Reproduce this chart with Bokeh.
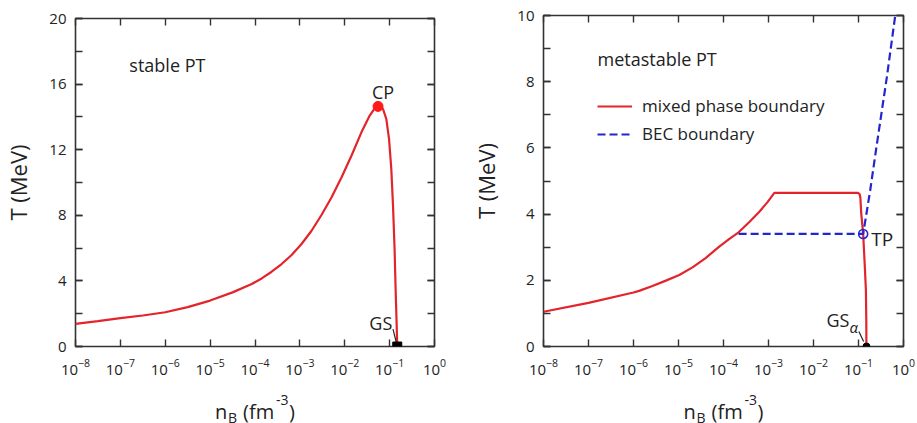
from bokeh.plotting import figure
from bokeh.models import (Range1d, FixedTicker, LogAxis, LinearAxis, Label, Legend, LegendItem,
                          SingleIntervalTicker, CustomJSTickFormatter, LogTickFormatter)
from bokeh.layouts import row, column
from bokeh.embed import file_html
from bokeh.resources import INLINE

FONT = "Open Sans"
TXT = "#222222"
AX = "#333333"
RED = "#e3242b"
BLUE = "#2424d0"

# ---- data ----
x_decades = [1e-8, 1e-7, 1e-6, 1e-5, 1e-4, 1e-3, 1e-2, 1e-1, 1.0]

# left panel: stable PT
stable_nB = [1e-8, 3.16e-8, 1e-7, 3.16e-7, 1e-6, 3.16e-6, 1e-5, 3.16e-5, 8.45e-5, 1.41e-4,
             2.35e-4, 3.92e-4, 6.55e-4, 1.09e-3, 1.82e-3, 3.03e-3, 5.06e-3, 8.45e-3, 0.0141,
             0.0235, 0.0360, 0.0465, 0.0552, 0.0713, 0.0845, 0.0971, 0.109, 0.119, 0.129,
             0.136, 0.143, 0.148]
stable_T = [1.38, 1.55, 1.73, 1.89, 2.09, 2.40, 2.80, 3.30, 3.81, 4.15,
            4.56, 5.03, 5.58, 6.25, 7.06, 8.02, 9.09, 10.31, 11.63,
            13.06, 14.08, 14.52, 14.64, 14.48, 13.87, 12.65, 10.82, 8.58, 5.94,
            3.50, 1.46, 0.0]
cp_nB = [0.0552]
cp_T = [14.64]
gs_nB = [0.148]
gs_T = [0.0]

# right panel: metastable PT
mixed_nB = [1e-8, 1e-7, 1e-6, 1.33e-6, 2.64e-6, 5.24e-6, 1.04e-5, 2.05e-5, 4.07e-5, 8.05e-5,
            1.35e-4, 2.17e-4, 3.76e-4, 6.27e-4, 9.6e-4, 1.35e-3, 0.097, 0.106, 0.110, 0.115,
            0.127, 0.137, 0.146, 0.149, 0.150]
mixed_T = [1.05, 1.32, 1.63, 1.68, 1.83, 1.99, 2.16, 2.39, 2.68, 3.02,
           3.25, 3.45, 3.76, 4.07, 4.37, 4.64, 4.64, 4.60, 4.50, 4.02,
           3.40, 2.52, 1.71, 0.81, 0.0]
bec_nB = [2.17e-4, 0.127, 0.182, 0.257, 0.427, 0.655]
bec_T = [3.40, 3.40, 4.72, 6.13, 8.14, 10.0]
tp_nB = [0.127]
tp_T = [3.40]
gsa_nB = [0.150]
gsa_T = [0.0]

MAIN_H = 383
STRIP_H = 40


def style_axis(ax, labels=True):
    ax.axis_line_color = None
    ax.major_tick_in = 7
    ax.major_tick_out = 0
    ax.minor_tick_in = 7
    ax.minor_tick_out = 0
    ax.major_tick_line_color = AX
    ax.minor_tick_line_color = AX
    ax.major_tick_line_width = 1.4
    ax.minor_tick_line_width = 1.4
    if labels:
        ax.major_label_text_font = FONT
        ax.major_label_text_font_size = "15px"
        ax.major_label_text_color = TXT
    else:
        ax.major_label_standoff = 0


def make_fig(w, bl, br, bt, ymax, ystep):
    p = figure(width=w, height=MAIN_H, x_axis_type="log",
               x_range=Range1d(1e-8, 1.0), y_range=Range1d(0, ymax),
               output_backend="svg", toolbar_location=None,
               min_border_left=bl, min_border_right=br, min_border_top=bt,
               min_border_bottom=MAIN_H - 346)
    p.grid.visible = False
    p.outline_line_color = AX
    p.outline_line_width = 1.6
    p.background_fill_color = "white"
    p.border_fill_color = "white"

    xa = p.xaxis[0]
    xa.ticker = FixedTicker(ticks=x_decades)
    xa.formatter = LogTickFormatter()
    ya = p.yaxis[0]
    ya.ticker = SingleIntervalTicker(interval=ystep, num_minor_ticks=2)
    style_axis(xa)
    style_axis(ya)
    xa.major_label_standoff = 12
    ya.major_label_standoff = 9
    ya.axis_label = "T (MeV)"
    ya.axis_label_text_font = FONT
    ya.axis_label_text_font_size = "22px"
    ya.axis_label_text_font_style = "normal"
    ya.axis_label_text_color = TXT
    ya.axis_label_standoff = 13

    empty = CustomJSTickFormatter(code="return ''")
    top = LogAxis(ticker=FixedTicker(ticks=x_decades), formatter=empty)
    right = LinearAxis(ticker=SingleIntervalTicker(interval=ystep, num_minor_ticks=2),
                       formatter=empty)
    style_axis(top, labels=False)
    style_axis(right, labels=False)
    top.minor_tick_line_color = None
    p.add_layout(top, "above")
    p.add_layout(right, "right")
    return p


def make_xlabel(p, w, bl, br):
    # strip below the plot that holds the composite axis title n_B (fm^-3)
    q = figure(width=w, height=STRIP_H, x_axis_type="log", x_range=p.x_range,
               y_range=Range1d(0, STRIP_H), output_backend="svg", toolbar_location=None,
               x_axis_location=None, y_axis_location=None,
               min_border_left=bl, min_border_right=br, min_border_top=0,
               min_border_bottom=0)
    q.grid.visible = False
    q.outline_line_color = None
    q.background_fill_color = "white"
    q.border_fill_color = "white"
    parts = [("n", -40, 12, "20px"), ("B", -27, 6, "14px"), ("(fm", -12, 12, "20px"),
             ("-3", 21, 24, "14px"), (")", 34, 12, "20px")]
    for t, dx, yy, fs in parts:
        q.add_layout(Label(x=1e-4, y=yy, x_offset=dx, text=t, text_font=FONT,
                           text_font_size=fs, text_color=TXT, text_align="left",
                           text_baseline="alphabetic"))
    return q


def txt(p, x, y, t, fs="18px", align="left", baseline="alphabetic", dx=0, dy=0, style="normal"):
    p.add_layout(Label(x=x, y=y, x_offset=dx, y_offset=dy, text=t, text_font=FONT,
                       text_font_size=fs, text_color=TXT, text_align=align,
                       text_baseline=baseline, text_font_style=style))


# ---- left ----
p1 = make_fig(460, 72, 26, 18, 20, 4)
p1.line(stable_nB, stable_T, line_color=RED, line_width=2.2)
p1.scatter(cp_nB, cp_T, marker="circle", size=10, fill_color="#ff1a1a", line_color="#ff1a1a")
p1.segment(x0=[0.119], y0=[1.06], x1=[0.141], y1=[0.24], line_color=TXT, line_width=1.2)
p1.scatter(gs_nB, gs_T, marker="square", size=9, fill_color="black", line_color="black")
txt(p1, 10 ** -6.8, 17.0, "stable PT", baseline="middle", dy=3)
txt(p1, cp_nB[0], cp_T[0], "CP", align="center", dx=5, dy=14)
txt(p1, gs_nB[0], gs_T[0], "GS", align="right", dx=-5, dy=24)

# ---- right ----
p2 = make_fig(457, 83, 14, 15, 10, 2)
r_red = p2.line(mixed_nB, mixed_T, line_color=RED, line_width=2.2)
r_blue = p2.line(bec_nB, bec_T, line_color=BLUE, line_width=2.2, line_dash="8 4")
p2.scatter(tp_nB, tp_T, marker="circle", size=9, fill_color="white", fill_alpha=0,
           line_color=BLUE, line_width=1.6)
p2.segment(x0=[0.102], y0=[0.45], x1=[0.130], y1=[0.15], line_color=TXT, line_width=1.2)
p2.scatter(gsa_nB, gsa_T, marker="circle", size=7, fill_color="black", line_color="black")
txt(p2, 10 ** -6.8, 8.55, "metastable PT", baseline="middle", dy=4)
txt(p2, tp_nB[0], tp_T[0], "TP", fs="19px", dx=8, dy=-5)
txt(p2, gsa_nB[0], gsa_T[0], "GS", fs="18px", align="right", dx=-17, dy=27)
txt(p2, gsa_nB[0], gsa_T[0], "\u03b1", fs="15px", align="left", dx=-17, dy=20, style="italic")

leg = Legend(items=[LegendItem(label="mixed phase boundary", renderers=[r_red]),
                    LegendItem(label="BEC boundary", renderers=[r_blue])],
             location=(54, 201), border_line_color=None, background_fill_alpha=0,
             padding=0, margin=0, spacing=5, glyph_width=35, glyph_height=20,
             label_height=20, label_standoff=10, label_text_font=FONT,
             label_text_font_size="17px", label_text_color=TXT)
p2.add_layout(leg)

q1 = make_xlabel(p1, 460, 72, 26)
q2 = make_xlabel(p2, 457, 83, 14)

layout = row(column(p1, q1), column(p2, q2))
open("out.html", "w").write(file_html(layout, INLINE))
